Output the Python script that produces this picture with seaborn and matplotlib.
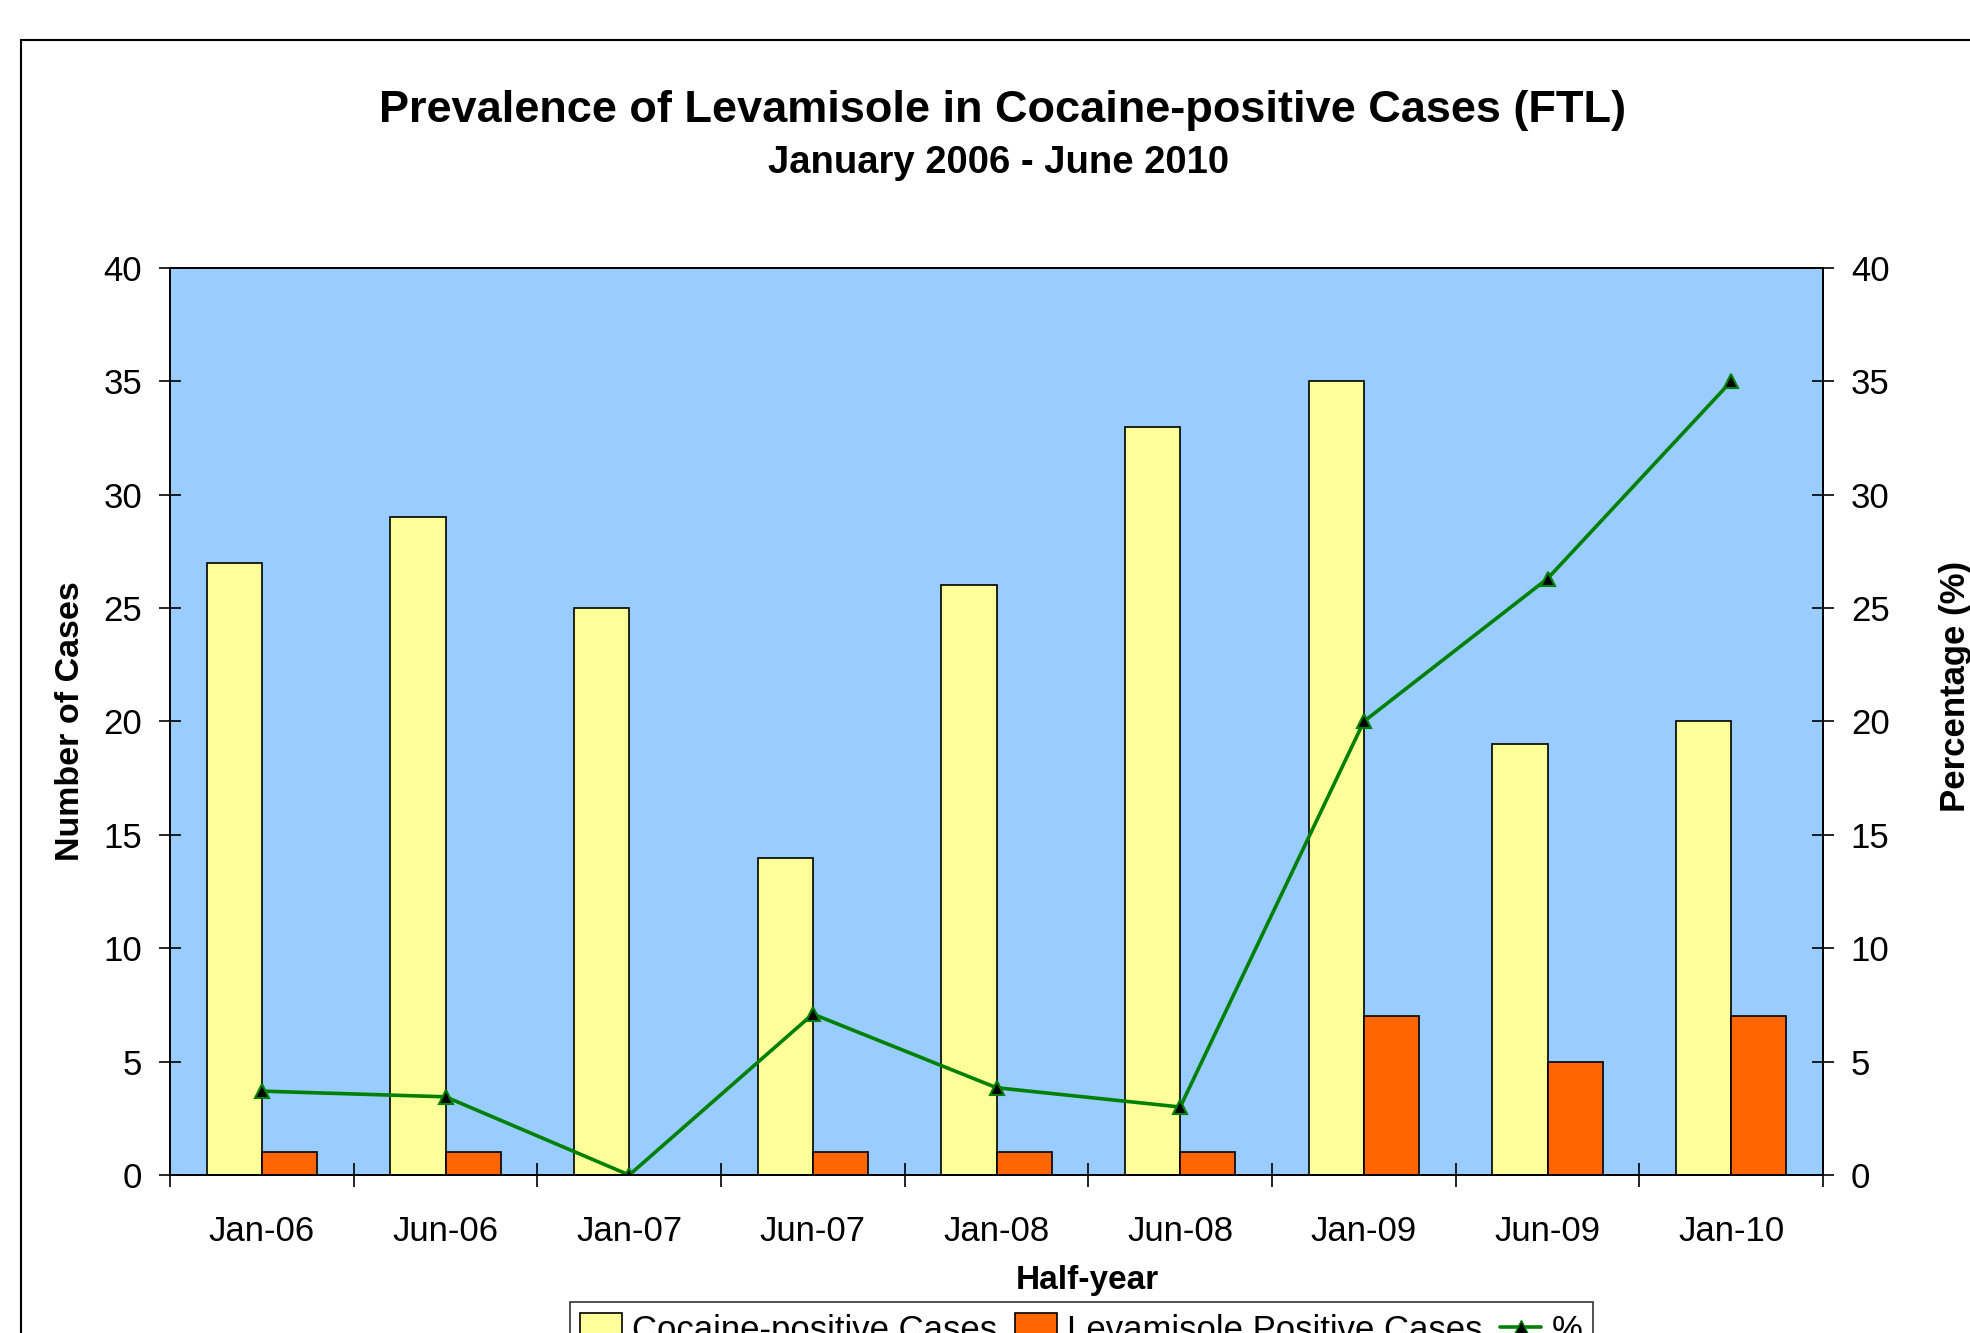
import numpy as np
import pandas as pd
import matplotlib
matplotlib.use('Agg')
import matplotlib.pyplot as plt
from matplotlib.patches import Rectangle, Patch
from matplotlib.lines import Line2D
import seaborn as sns

# data
halves = ['Jan-06', 'Jun-06', 'Jan-07', 'Jun-07', 'Jan-08', 'Jun-08', 'Jan-09', 'Jun-09', 'Jan-10']
cocaine = [27, 29, 25, 14, 26, 33, 35, 19, 20]
levamisole = [1, 1, 0, 1, 1, 1, 7, 5, 7]
pct = [3.7, 3.45, 0.0, 7.1, 3.85, 3.0, 20.0, 26.3, 35.0]

series_names = ['Cocaine-positive Cases', 'Levamisole Positive Cases']
colors = {'Cocaine-positive Cases': '#FFFF99', 'Levamisole Positive Cases': '#FF6600'}
green = '#008000'

df = pd.DataFrame({
    'half': halves * 2,
    'series': [series_names[0]] * len(halves) + [series_names[1]] * len(halves),
    'cases': cocaine + levamisole,
})

sns.set_style('ticks')
plt.rcParams['font.family'] = ['Liberation Sans', 'DejaVu Sans']
plt.rcParams['text.color'] = 'black'
plt.rcParams['axes.labelcolor'] = 'black'
plt.rcParams['xtick.color'] = 'black'
plt.rcParams['ytick.color'] = 'black'

fig = plt.figure(figsize=(19.7, 13.33), dpi=100)
ax = fig.add_axes([0.0863, 0.1185, 0.8391, 0.6805])
ax.set_facecolor('#99CCFF')

sns.barplot(data=df, x='half', y='cases', hue='series', palette=colors, saturation=1,
            width=0.6, gap=0, edgecolor='black', linewidth=1.2, legend=False, ax=ax)

ax.set_xlim(-0.5, len(halves) - 0.5)
ax.set_ylim(0, 40)
ax.set_yticks(range(0, 41, 5))
ax.set_xticks(np.arange(len(halves)))
ax.set_xticklabels(halves)
ax.set_xticks(np.arange(-0.5, len(halves), 1), minor=True)
ax.tick_params(axis='x', which='major', length=0, pad=29, labelsize=25)
ax.tick_params(axis='x', which='minor', length=17, direction='inout', width=1.2)
ax.tick_params(axis='y', length=16, direction='inout', width=1.2, pad=12, labelsize=25)
ax.set_xlabel('')
ax.set_ylabel('')
for s in ax.spines.values():
    s.set_linewidth(1.3)
    s.set_color('black')

ax2 = ax.twinx()
sns.lineplot(x=np.arange(len(halves)), y=pct, ax=ax2, color=green, linewidth=2.6,
             marker='^', markersize=10, markerfacecolor='black', markeredgecolor=green,
             markeredgewidth=1.5)
ax2.set_ylim(0, 40)
ax2.set_yticks(range(0, 41, 5))
ax2.tick_params(axis='y', length=16, direction='inout', width=1.2, pad=12, labelsize=25)
for s in ax2.spines.values():
    s.set_linewidth(1.3)
    s.set_color('black')

# titles and axis labels
fig.text(0.509, 0.917, 'Prevalence of Levamisole in Cocaine-positive Cases (FTL)',
         ha='center', va='center', fontsize=32.5, fontweight='bold')
fig.text(0.507, 0.878, 'January 2006 - June 2010', ha='center', va='center',
         fontsize=27.5, fontweight='bold')
fig.text(0.028, 0.459, 'Number of Cases', ha='left', va='center', rotation=90,
         fontsize=24.5, fontweight='bold')
fig.text(0.9845, 0.485, 'Percentage (%)', ha='left', va='center', rotation=90,
         fontsize=25, fontweight='bold')
fig.text(0.552, 0.0395, 'Half-year', ha='center', va='center', fontsize=24, fontweight='bold')

handles = [Patch(facecolor=colors[series_names[0]], edgecolor='black', linewidth=1.2),
           Patch(facecolor=colors[series_names[1]], edgecolor='black', linewidth=1.2),
           Line2D([], [], color=green, linewidth=2.6, marker='^', markersize=10,
                  markerfacecolor='black', markeredgecolor=green)]
leg = fig.legend(handles, series_names + ['%'], loc='upper center',
                 bbox_to_anchor=(0.549, 0.036), ncol=3, fontsize=25, frameon=True,
                 fancybox=False, edgecolor='black', handlelength=1.2, handleheight=1.0,
                 handletextpad=0.3, columnspacing=0.5, borderpad=0.3)
leg.get_frame().set_linewidth(1.2)

# outer chart frame
fig.patches.append(Rectangle((0.0107, -0.5), 2.0, 1.470, transform=fig.transFigure,
                             fill=False, edgecolor='black', linewidth=1.5))

fig.savefig('out.png', dpi=100)
